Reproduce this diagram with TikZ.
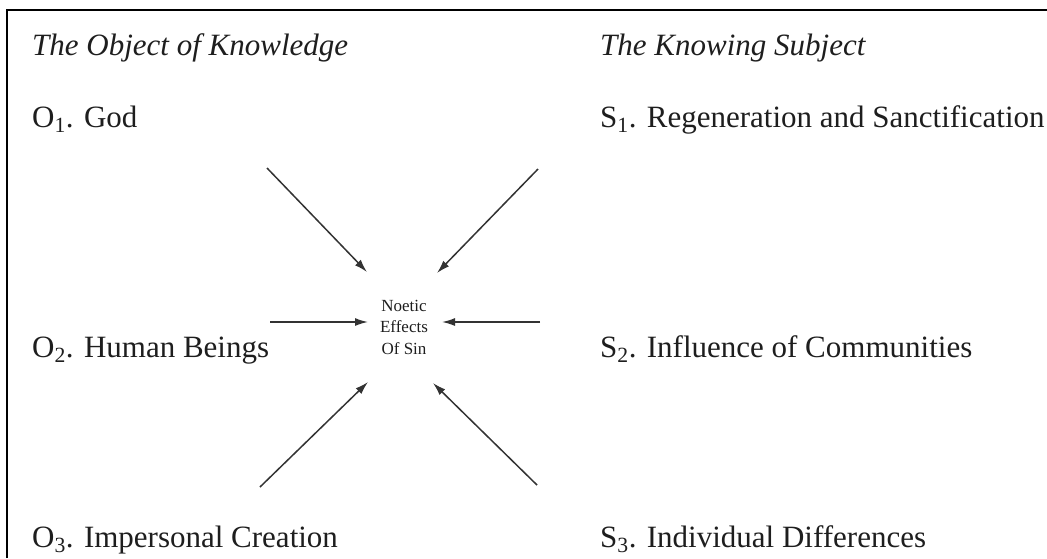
\documentclass[tikz,border=0pt]{standalone}
\usepackage{fontspec}
\setmainfont{Liberation Serif}
\usepackage{xcolor}
\usetikzlibrary{arrows.meta,positioning}

\definecolor{inkgray}{HTML}{1E1E1E}
\definecolor{arrowgray}{HTML}{333333}

\begin{document}
\begin{tikzpicture}[
    x=1pt, y=-1pt,
    heading/.style={anchor=base west, inner sep=0pt, text=inkgray, font=\fontsize{31}{37}\selectfont\itshape},
    item/.style={anchor=base west, inner sep=0pt, text=inkgray, font=\fontsize{31}{37}\selectfont},
    centre/.style={align=center, inner sep=0pt, text=inkgray, font=\fontsize{17}{21.5}\selectfont},
    arrow/.style={-{Latex[length=13pt, width=8pt]}, line width=1.5pt, draw=arrowgray}
]
\useasboundingbox (0,0) rectangle (1047,558);

% Frame (top and left edge only)
\draw[line width=2.2pt] (7,558) -- (7,10) -- (1047,10);

% Headings
\node[heading] (objhead) at (32,55) {The Object of Knowledge};
\node[heading] (subhead) at (600,55) {The Knowing Subject};

% Left column: objects
\node[item] (o1) at (32,127) {O\textsubscript{1}. God};
\node[item] (o2) at (32,357) {O\textsubscript{2}. Human Beings};
\node[item] (o3) at (32,547) {O\textsubscript{3}. Impersonal Creation};

% Right column: subjects
\node[item] (s1) at (600,127) {S\textsubscript{1}. Regeneration and Sanctification};
\node[item] (s2) at (600,357) {S\textsubscript{2}. Influence of Communities};
\node[item] (s3) at (600,547) {S\textsubscript{3}. Individual Differences};

% Centre
\node[centre] (sin) at (404,327) {Noetic\\Effects\\Of Sin};

% Arrow ends
\coordinate (tlfrom) at (267,168);
\coordinate (tlto) at (367,272);
\coordinate (trfrom) at (538,169);
\coordinate (trto) at (437,273);
\coordinate (lfrom) at (270,322);
\coordinate (lto) at (368,322);
\coordinate (rfrom) at (540,322);
\coordinate (rto) at (442,322);
\coordinate (blfrom) at (260,487);
\coordinate (blto) at (368,382);
\coordinate (brfrom) at (537,485);
\coordinate (brto) at (433,383);

% Arrows into the centre
\draw[arrow] (tlfrom) -- (tlto);
\draw[arrow] (trfrom) -- (trto);
\draw[arrow] (lfrom) -- (lto);
\draw[arrow] (rfrom) -- (rto);
\draw[arrow] (blfrom) -- (blto);
\draw[arrow] (brfrom) -- (brto);

\end{tikzpicture}
\end{document}
